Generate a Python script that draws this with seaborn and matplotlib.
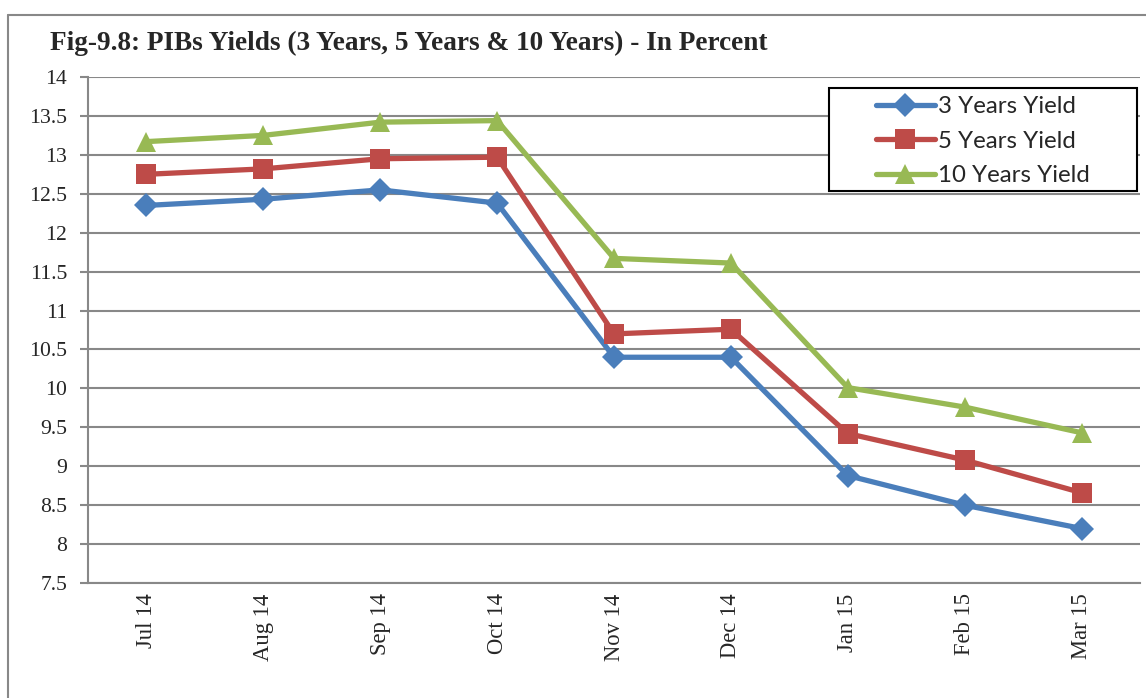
import matplotlib
matplotlib.use("Agg")
import matplotlib.pyplot as plt
import seaborn as sns
import pandas as pd
from matplotlib.patches import Rectangle
from matplotlib.lines import Line2D

months = ["Jul 14", "Aug 14", "Sep 14", "Oct 14", "Nov 14",
          "Dec 14", "Jan 15", "Feb 15", "Mar 15"]
yield_3y = [12.35, 12.43, 12.55, 12.38, 10.40, 10.40, 8.88, 8.50, 8.20]
yield_5y = [12.75, 12.82, 12.95, 12.97, 10.70, 10.76, 9.42, 9.08, 8.66]
yield_10y = [13.17, 13.25, 13.42, 13.44, 11.67, 11.61, 10.01, 9.76, 9.43]
series_names = ["3 Years Yield", "5 Years Yield", "10 Years Yield"]

df = pd.DataFrame({
    "month": months * 3,
    "pos": list(range(len(months))) * 3,
    "value": yield_3y + yield_5y + yield_10y,
    "series": sum([[n] * len(months) for n in series_names], []),
})

sns.set_theme(style="white")
plt.rcParams["font.family"] = ["Liberation Serif", "DejaVu Serif"]

colors = {"3 Years Yield": "#4A7EBB", "5 Years Yield": "#BE4B48", "10 Years Yield": "#98B954"}
markers = {"3 Years Yield": "D", "5 Years Yield": "s", "10 Years Yield": "^"}
msizes = {"3 Years Yield": 12, "5 Years Yield": 14, "10 Years Yield": 15}

W, H = 1146, 698
fig = plt.figure(figsize=(W / 100, H / 100), dpi=100)
ax = fig.add_axes([88 / W, 1 - 583 / H, (1140 - 88) / W, (583 - 77) / H])

for name in series_names:
    sub = df[df["series"] == name]
    sns.lineplot(data=sub, x="pos", y="value", ax=ax, color=colors[name],
                 linewidth=3.8, marker=markers[name], markersize=msizes[name],
                 markeredgewidth=0, legend=False, sort=False)

ax.set_xlim(-0.5, len(months) - 0.5)
ax.set_ylim(7.5, 14)
yticks = [7.5 + 0.5 * i for i in range(14)]
ax.set_yticks(yticks)
ax.set_yticklabels([f"{v:g}" for v in yticks], fontsize=15.6)
ax.set_xticks(range(len(months)))
ax.set_xticklabels(months, rotation=90, fontsize=16.3)
ax.set_xticks([i - 0.5 for i in range(len(months) + 1)], minor=True)
ax.tick_params(axis="x", which="major", length=0, pad=7.5)
ax.tick_params(axis="x", which="minor", length=6, width=1.5, color="#888888", direction="out")
ax.tick_params(axis="y", length=6, width=1.5, color="#888888", direction="out", left=True, pad=9)
ax.set_xlabel("")
ax.set_ylabel("")

ax.grid(axis="y", color="#888888", linewidth=1.5)
ax.set_axisbelow(True)
for side in ["top", "right"]:
    ax.spines[side].set_visible(False)
for side in ["left", "bottom"]:
    ax.spines[side].set_color("#888888")
    ax.spines[side].set_linewidth(1.5)

# legend box and entries
fig.add_artist(Rectangle((829 / W, 1 - 191 / H), 308 / W, 103 / H, transform=fig.transFigure,
                         facecolor="white", edgecolor="black", linewidth=1.5, zorder=4))
handles = [Line2D([0], [0], color=colors[n], linewidth=3.8, marker=markers[n],
                  markersize=msizes[n], markeredgewidth=0) for n in series_names]
leg = fig.legend(handles, series_names, loc="upper left",
                 bbox_to_anchor=(876 / W, 1 - 96 / H), bbox_transform=fig.transFigure,
                 prop={"family": ["Lato", "DejaVu Sans"], "size": 17.3},
                 frameon=False, handlelength=2.45, handletextpad=0.12,
                 borderpad=0, labelspacing=0.57, borderaxespad=0)
leg.set_zorder(5)

# title
fig.text(50 / W, 1 - 43 / H, "Fig-9.8: PIBs Yields (3 Years, 5 Years & 10 Years) - In Percent",
         fontsize=19.6, fontweight="bold", ha="left", va="center")

# chart frame
fig.add_artist(Line2D([8 / W, 8 / W], [0, 1 - 15 / H], transform=fig.transFigure,
                      color="#888888", linewidth=1.5))
fig.add_artist(Line2D([8 / W, 1], [1 - 15 / H, 1 - 15 / H], transform=fig.transFigure,
                      color="#888888", linewidth=1.5))

fig.savefig("out.png", dpi=100)
